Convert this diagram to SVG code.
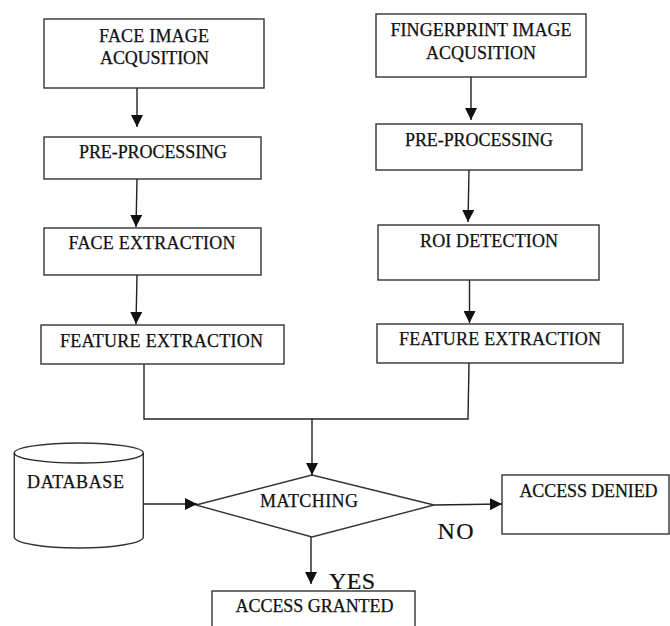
<svg xmlns="http://www.w3.org/2000/svg" width="670" height="626" viewBox="0 0 670 626">
<defs>
<style>
.box{fill:#fff;stroke:#333;stroke-width:1.4}
.t{font-family:"Liberation Serif","Times New Roman",serif;font-size:18px;fill:#101010;stroke:#101010;stroke-width:0.25;text-anchor:middle}
.big{font-family:"Liberation Serif","Times New Roman",serif;font-size:24px;fill:#101010;stroke:#101010;stroke-width:0.2}
.ln{fill:none;stroke:#222;stroke-width:1.4}
</style>
<marker id="ah" markerUnits="userSpaceOnUse" markerWidth="14" markerHeight="12" refX="12" refY="6" orient="auto">
<path d="M0,0 L12,6 L0,12 Z" fill="#111"/>
</marker>
</defs>
<rect width="670" height="626" fill="#fff"/>
<g id="face-acq"><rect class="box" x="44" y="19" width="220" height="69"/><text class="t" x="154" y="42" textLength="110">FACE IMAGE</text><text class="t" x="154.5" y="64" textLength="109">ACQUSITION</text></g>
<g id="face-pre"><rect class="box" x="44" y="137" width="217" height="42"/><text class="t" x="153" y="158" textLength="148">PRE-PROCESSING</text></g>
<g id="face-ext"><rect class="box" x="44" y="228" width="217" height="47"/><text class="t" x="152" y="249" textLength="167">FACE EXTRACTION</text></g>
<g id="face-feat"><rect class="box" x="41" y="325" width="243" height="39"/><text class="t" x="161.5" y="347" textLength="203">FEATURE EXTRACTION</text></g>
<g id="fp-acq"><rect class="box" x="376" y="14" width="210" height="63"/><text class="t" x="481" y="36" textLength="181">FINGERPRINT IMAGE</text><text class="t" x="481" y="59" textLength="110">ACQUSITION</text></g>
<g id="fp-pre"><rect class="box" x="376" y="124" width="206" height="46"/><text class="t" x="479" y="146" textLength="148">PRE-PROCESSING</text></g>
<g id="fp-roi"><rect class="box" x="378" y="225" width="221" height="55"/><text class="t" x="489" y="247" textLength="138">ROI DETECTION</text></g>
<g id="fp-feat"><rect class="box" x="377" y="324" width="246" height="39"/><text class="t" x="500" y="345" textLength="202">FEATURE EXTRACTION</text></g>
<g id="database"><path class="box" d="M14.3,453 A64.5,10 0 0 1 143.3,453 L143.3,537 A64.5,11 0 0 1 14.3,537 Z"/><path class="ln" d="M14.3,453 A64.5,10 0 0 0 143.3,453" stroke="#333"/><text class="t" x="75.5" y="488" textLength="97">DATABASE</text></g>
<g id="matching"><polygon class="box" points="196,505 312,475 434,505 312,537"/><text class="t" x="309" y="507" textLength="98">MATCHING</text></g>
<g id="denied"><rect class="box" x="502" y="475" width="167" height="59"/><text class="t" x="588.5" y="497" textLength="138">ACCESS DENIED</text></g>
<g id="granted"><rect class="box" x="212" y="591" width="203" height="50"/><text class="t" x="314.5" y="612" textLength="158">ACCESS GRANTED</text></g>
<g id="connectors">
<line class="ln" x1="137" y1="88" x2="137" y2="127" marker-end="url(#ah)"/>
<line class="ln" x1="137" y1="179" x2="136" y2="227" marker-end="url(#ah)"/>
<line class="ln" x1="137" y1="275" x2="136" y2="324" marker-end="url(#ah)"/>
<line class="ln" x1="471" y1="77" x2="471" y2="120" marker-end="url(#ah)"/>
<line class="ln" x1="469" y1="170" x2="468" y2="222" marker-end="url(#ah)"/>
<line class="ln" x1="469.5" y1="280" x2="469.5" y2="323" marker-end="url(#ah)"/>
<polyline class="ln" points="144,364 144,419 468,419 469,363"/>
<line class="ln" x1="312" y1="419" x2="312" y2="475" marker-end="url(#ah)"/>
<line class="ln" x1="143" y1="504" x2="197" y2="504" marker-end="url(#ah)"/>
<line class="ln" x1="434" y1="505" x2="502" y2="504" marker-end="url(#ah)"/>
<line class="ln" x1="311" y1="537" x2="311" y2="584" marker-end="url(#ah)"/>
</g>
<text class="big" x="437.5" y="539" textLength="36">NO</text>
<text class="big" x="329" y="589" textLength="46">YES</text>
</svg>
